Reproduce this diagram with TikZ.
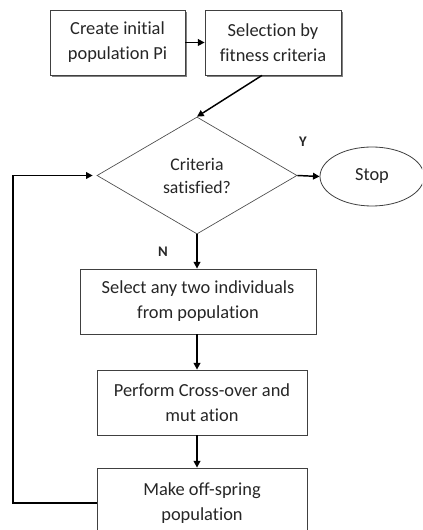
\documentclass[tikz,border=0pt]{standalone}
\usepackage{fontspec}
\setmainfont[Ligatures={NoCommon}]{Carlito}
\usetikzlibrary{shapes.geometric,arrows.meta,shadows}
\begin{document}
\begin{tikzpicture}[x=0.75pt,y=-0.75pt,
  txt/.style={font=\fontsize{13.8}{18.75}\selectfont, text=black!85, align=center},
  box/.style={txt, draw=black!75, line width=0.6pt, fill=white, inner sep=2pt},
  bigshadow/.style={drop shadow={shadow xshift=1.6pt, shadow yshift=-1.6pt, fill=black!50, opacity=1}},
  smallshadow/.style={drop shadow={shadow xshift=0.6pt, shadow yshift=-1.0pt, fill=black!50, opacity=1}},
  arr/.style={draw=black, line width=1.1pt, -{Triangle[length=5pt,width=5pt]}},
  lbl/.style={font=\fontsize{11}{13}\selectfont\bfseries, text=black!85}]
\clip (0,0) rectangle (422,530);
\fill[white] (0,0) rectangle (422,530);
\node[box, bigshadow, minimum width=101.25pt, minimum height=48.75pt] (b1) at (117.5,42.5) {Create initial\\population Pi};
\node[box, bigshadow, minimum width=102pt, minimum height=48.75pt] (b2) at (273,42.5) {Selection by\\fitness criteria};
\node[diamond, draw=black!70, line width=0.5pt, aspect=1.71, minimum width=150pt, minimum height=87.75pt, inner sep=0pt, txt, font=\fontsize{13.3}{17.25}\selectfont] (dia) at (197,175.5) {Criteria\\satisfied?};
\node[ellipse, draw=black!75, line width=0.6pt, minimum width=78pt, minimum height=44.25pt, txt] (stop) at (372,176.5) {Stop};
\node[box, smallshadow, minimum width=177pt, minimum height=48.75pt] (sel) at (198,301.5) {Select any two individuals\\from population};
\node[box, smallshadow, minimum width=157.5pt, minimum height=48.75pt] (perf) at (202,402.5) {Perform Cross-over and\\mut ation};
\node[box, smallshadow, minimum width=157.5pt, minimum height=52.5pt] (make) at (202,503) {Make off-spring\\population};
\node[lbl] (ylab) at (303,142) {Y};
\node[lbl] (nlab) at (163,252) {N};
\coordinate (fb) at (13,0);
\draw[arr] (b1.east) -- (b2.west);
\draw[arr] ([xshift=-8.25pt]b2.south) -- (dia.north);
\draw[arr] (dia.east) -- (stop.west);
\draw[arr] (dia.south) -- (sel.north -| dia.south);
\draw[arr] (sel.south -| dia.south) -- (perf.north -| dia.south);
\draw[arr] (perf.south -| dia.south) -- (make.north -| dia.south);
\draw[arr, line width=1.3pt] (make.west) -- (make.west -| fb) -- (fb |- dia.west) -- ([xshift=-3pt]dia.west);
\end{tikzpicture}
\end{document}
